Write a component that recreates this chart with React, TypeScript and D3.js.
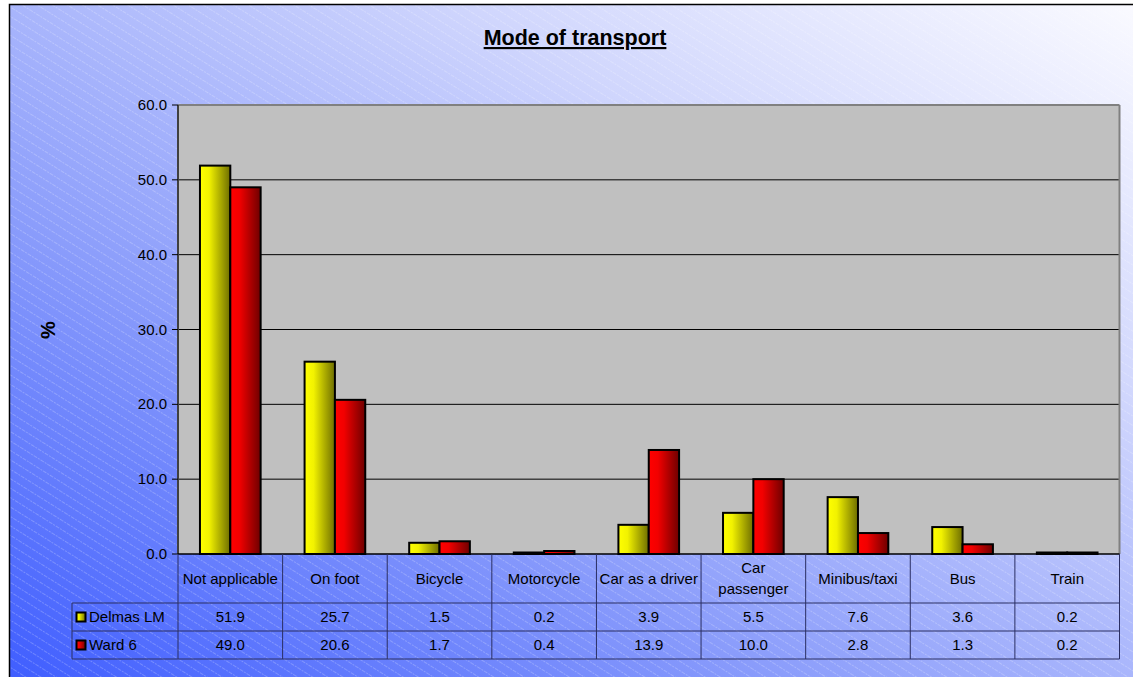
import React from "react";
import * as d3 from "d3";

const categories: string[][] = [
  ["Not applicable"],
  ["On foot"],
  ["Bicycle"],
  ["Motorcycle"],
  ["Car as a driver"],
  ["Car", "passenger"],
  ["Minibus/taxi"],
  ["Bus"],
  ["Train"],
];
const delmasLM = [51.9, 25.7, 1.5, 0.2, 3.9, 5.5, 7.6, 3.6, 0.2];
const ward6 = [49.0, 20.6, 1.7, 0.4, 13.9, 10.0, 2.8, 1.3, 0.2];
const seriesNames = ["Delmas LM", "Ward 6"];
const yTicks = [0, 10, 20, 30, 40, 50, 60];

const W = 1133;
const H = 677;
const FONT = "'Liberation Sans', Arial, sans-serif";

export default function App() {
  const left = 178;
  const right = 1119.5;
  const top = 105;
  const bottom = 554;
  const rowCat = 603;
  const row1 = 631;
  const row2 = 659;
  const legendLeft = 72;

  const keys = categories.map((c) => c.join(" "));
  const x = d3.scaleBand<string>().domain(keys).range([left, right]).padding(0);
  const bw = x.bandwidth();
  const inner = d3
    .scaleBand<string>()
    .domain(["0", "1"])
    .range([bw * 0.21, bw * 0.79])
    .padding(0);
  const y = d3.scaleLinear().domain([0, 60]).range([bottom, top]);
  const series = [delmasLM, ward6];
  const fills = ["url(#gYellow)", "url(#gRed)"];

  return (
    <svg
      width={W}
      height={H}
      style={{ position: "absolute", left: 0, top: 0, display: "block" }}
      fontFamily={FONT}
    >
      <defs>
        <linearGradient id="gBg" x1="0" y1="1" x2="1" y2="0">
          <stop offset="0%" stopColor="#3d5cff" />
          <stop offset="35%" stopColor="#8b9dfb" />
          <stop offset="70%" stopColor="#d0d6fd" />
          <stop offset="100%" stopColor="#fbfbff" />
        </linearGradient>
        <pattern
          id="hatch"
          width="8"
          height="8"
          patternUnits="userSpaceOnUse"
          patternTransform="rotate(32)"
        >
          <line x1="0" y1="0.5" x2="8" y2="0.5" stroke="#ffffff" strokeOpacity="0.22" strokeWidth="1" strokeDasharray="2 1" />
        </pattern>
        <linearGradient id="gYellow" x1="0" y1="0" x2="1" y2="0">
          <stop offset="0%" stopColor="#ffff00" />
          <stop offset="30%" stopColor="#f2f200" />
          <stop offset="100%" stopColor="#6e6e00" />
        </linearGradient>
        <linearGradient id="gRed" x1="0" y1="0" x2="1" y2="0">
          <stop offset="0%" stopColor="#ff0000" />
          <stop offset="30%" stopColor="#f20000" />
          <stop offset="100%" stopColor="#6e0000" />
        </linearGradient>
      </defs>

      {/* page background and chart area */}
      <rect x={0} y={0} width={W} height={H} fill="#ffffff" />
      <rect x={9.5} y={4.5} width={W + 10} height={H + 10} fill="url(#gBg)" />
      <rect x={9.5} y={4.5} width={W + 10} height={H + 10} fill="url(#hatch)" />
      <rect x={9.5} y={4.5} width={W + 10} height={H + 10} fill="none" stroke="#000" strokeWidth={1.5} />

      {/* title */}
      <text
        x={575}
        y={45}
        textAnchor="middle"
        fontSize={21.5}
        fontWeight="bold"
        fill="#000"
        textDecoration="underline"
      >
        Mode of transport
      </text>

      {/* plot area */}
      <rect x={left} y={top} width={right - left} height={bottom - top} fill="#c0c0c0" />
      {yTicks.slice(1, -1).map((t) => (
        <line key={t} x1={left} x2={right} y1={y(t)} y2={y(t)} stroke="#000" strokeWidth={1} />
      ))}
      <line x1={left} x2={right} y1={top} y2={top} stroke="#808080" strokeWidth={2} />
      <line x1={right} x2={right} y1={top} y2={bottom} stroke="#808080" strokeWidth={2} />

      {/* bars */}
      {series.map((vals, si) =>
        vals.map((v, i) => {
          const bx = (x(keys[i]) as number) + (inner(String(si)) as number);
          const by = y(v);
          return (
            <rect
              key={`${si}-${i}`}
              x={bx}
              y={by}
              width={inner.bandwidth()}
              height={Math.max(0, bottom - by)}
              fill={fills[si]}
              stroke="#000"
              strokeWidth={2}
            />
          );
        })
      )}

      {/* value axis */}
      <line x1={left} x2={left} y1={top} y2={bottom} stroke="#404040" strokeWidth={2} />
      <line x1={left} x2={right} y1={bottom} y2={bottom} stroke="#000" strokeWidth={1.5} />
      {yTicks.map((t) => (
        <g key={t}>
          <line x1={left - 6} x2={left} y1={y(t)} y2={y(t)} stroke="#000" strokeWidth={1} />
          <text x={left - 11} y={y(t) + 5} textAnchor="end" fontSize={15} fill="#000">
            {t.toFixed(1)}
          </text>
        </g>
      ))}
      <text
        transform={`translate(55,330) rotate(-90)`}
        textAnchor="middle"
        fontSize={20}
        fontWeight="bold"
        fill="#000"
      >
        %
      </text>

      {/* data table */}
      <g stroke="#2b2f63" strokeWidth={1}>
        <line x1={legendLeft} x2={right} y1={rowCat} y2={rowCat} />
        <line x1={legendLeft} x2={right} y1={row1} y2={row1} />
        <line x1={legendLeft} x2={right} y1={row2} y2={row2} />
        <line x1={legendLeft} x2={legendLeft} y1={rowCat} y2={row2} />
        {keys.map((k) => (
          <line key={k} x1={x(k) as number} x2={x(k) as number} y1={bottom} y2={row2} />
        ))}
        <line x1={right} x2={right} y1={bottom} y2={row2} />
      </g>
      {categories.map((lines, i) => {
        const cx = (x(keys[i]) as number) + bw / 2;
        const mid = (bottom + rowCat) / 2;
        return (
          <text key={keys[i]} textAnchor="middle" fontSize={15} fill="#000">
            {lines.map((ln, li) => (
              <tspan key={li} x={cx} y={mid + 5 + (li - (lines.length - 1) / 2) * 21}>
                {ln}
              </tspan>
            ))}
          </text>
        );
      })}
      {series.map((vals, si) => {
        const rowTop = si === 0 ? rowCat : row1;
        const rowBottom = si === 0 ? row1 : row2;
        const cy = (rowTop + rowBottom) / 2;
        return (
          <g key={si}>
            <rect
              x={legendLeft + 4.5}
              y={cy - 4.5}
              width={9}
              height={9}
              fill={fills[si]}
              stroke="#000"
              strokeWidth={2}
            />
            <text x={legendLeft + 17} y={cy + 5} fontSize={15} fill="#000">
              {seriesNames[si]}
            </text>
            {vals.map((v, i) => (
              <text
                key={i}
                x={(x(keys[i]) as number) + bw / 2}
                y={cy + 5}
                textAnchor="middle"
                fontSize={15}
                fill="#000"
              >
                {v.toFixed(1)}
              </text>
            ))}
          </g>
        );
      })}
    </svg>
  );
}
